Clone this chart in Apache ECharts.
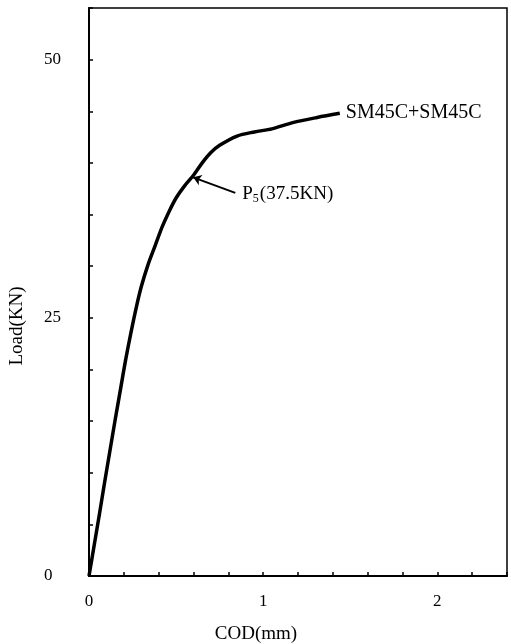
<!DOCTYPE html>
<html>
<head>
<meta charset="utf-8">
<script src="https://cdn.jsdelivr.net/npm/echarts@6/dist/echarts.min.js"></script>
<style>
html,body{margin:0;padding:0;background:#fff;}
#main{width:511px;height:644px;}
</style>
</head>
<body>
<div id="main"></div>
<script>
// COD (mm) vs Load (KN)
var cod=[0,0.03,0.06,0.09,0.12,0.15,0.18,0.21,0.24,0.27,0.30,0.34,0.38,0.42,0.46,0.50,0.55,0.60,0.65,0.70,0.75,0.85,0.95,1.05,1.17,1.31,1.44];
var load=[0,3.0,6.0,9.1,12.1,15.1,18.0,20.9,23.5,25.9,28.0,30.2,32.0,33.8,35.3,36.6,37.8,38.8,40.0,41.0,41.7,42.6,43.0,43.3,43.9,44.4,44.8];
var xTicks=[0,1,2];
var yTicks=[0,25,50];
var seriesName='SM45C+SM45C';
var p5Point=[0.598,38.6];
var p5Label=[0.84,37.1];

var pts=[];
for(var i=0;i<cod.length;i++){
	pts.push([cod[i],load[i]]);
}

var myChart=echarts.init(document.getElementById('main'));
var serif='"Liberation Serif","DejaVu Serif",serif';

var option={
	backgroundColor:'#fff',
	animation:false,
	grid:{
		left:89,top:8,right:4,bottom:68,
		outerBoundsMode:'none',
		containLabel:false,
		show:true,borderColor:'#000',borderWidth:1.5
	},
	xAxis:{
		type:'value',
		min:0,max:2.4,interval:0.2,
		name:'COD(mm)',
		nameLocation:'middle',
		nameGap:49,
		nameTextStyle:{color:'#000',fontFamily:serif,fontSize:19,padding:[0,84,0,0]},
		axisLine:{lineStyle:{color:'#000',width:2}},
		axisTick:{inside:true,length:4,lineStyle:{color:'#000',width:1.5}},
		splitLine:{show:false},
		axisLabel:{
			color:'#000',fontFamily:serif,fontSize:17,margin:17,
			formatter:function(v){
				for(var k=0;k<xTicks.length;k++){ if(Math.abs(v-xTicks[k])<1e-6) return String(xTicks[k]); }
				return '';
			}
		}
	},
	yAxis:{
		type:'value',
		min:0,max:55,interval:5,
		name:'Load(KN)',
		nameLocation:'middle',
		nameGap:62,
		nameRotate:90,
		nameTextStyle:{color:'#000',fontFamily:serif,fontSize:19,padding:[0,68,0,0]},
		axisLine:{lineStyle:{color:'#000',width:2}},
		axisTick:{inside:true,length:4,lineStyle:{color:'#000',width:1.5}},
		splitLine:{show:false},
		axisLabel:{
			color:'#000',fontFamily:serif,fontSize:17,margin:45,align:'left',
			formatter:function(v){
				return yTicks.indexOf(v)>=0 ? String(v) : '';
			}
		}
	},
	series:[{
		name:seriesName,
		type:'line',
		data:pts,
		showSymbol:false,
		smooth:0.3,
		lineStyle:{color:'#000',width:3.5},
		markPoint:{
			symbol:'circle',symbolSize:0,
			label:{show:true,position:'right',color:'#000',fontFamily:serif,fontSize:20},
			data:[
				{coord:pts[pts.length-1],label:{formatter:seriesName,offset:[1,-1]}},
				{coord:p5Label,label:{
					formatter:'{a|P}{b|5}{a|(37.5KN)}',offset:[2,1],
					rich:{a:{fontFamily:serif,fontSize:19,color:'#000'},b:{fontFamily:serif,fontSize:12,color:'#000',padding:[9,1,0,0]}}
				}}
			]
		},
		markLine:{
			silent:true,
			symbol:['none','arrow'],
			symbolSize:8,
			label:{show:false},
			lineStyle:{color:'#000',width:2,type:'solid'},
			data:[[{coord:p5Label},{coord:p5Point}]]
		}
	}]
};

myChart.setOption(option);
window.onresize=myChart.resize;
</script>
</body>
</html>
